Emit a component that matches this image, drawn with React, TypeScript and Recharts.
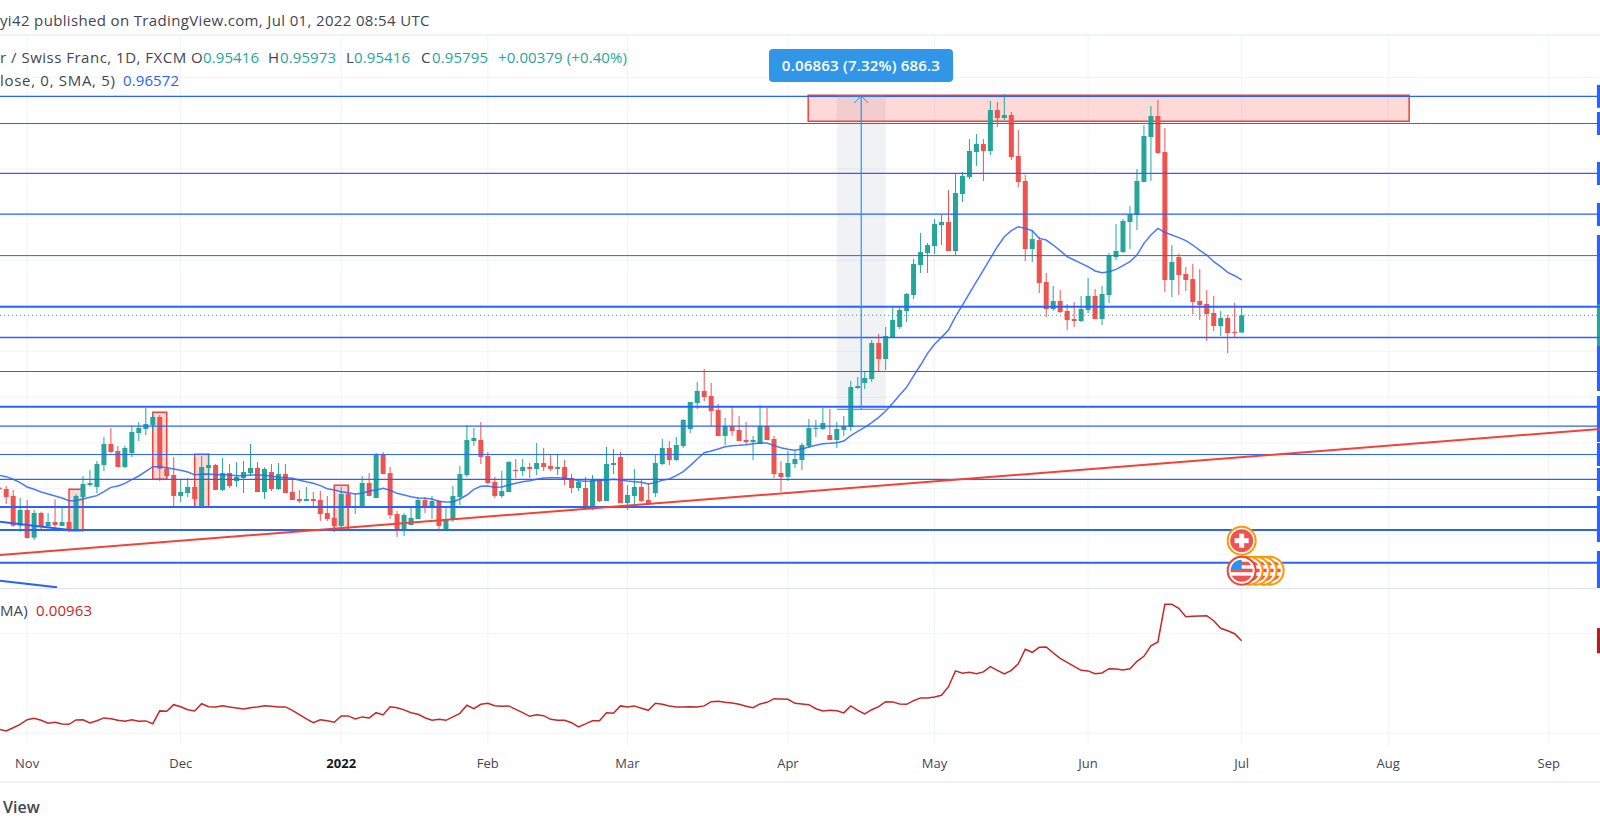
import React from 'react';
import { ComposedChart, Bar, Line, XAxis, YAxis, CartesianGrid, ReferenceLine, ReferenceArea, ReferenceDot } from 'recharts';

// USD/CHF daily bars, prices in 1/100000, first bar is cut by the left edge
const opens = [
  92020,91991,91838,91188,91531,90925,91465,91173,91268,91181,
  91268,91100,91816,92078,92035,92516,92976,92823,92473,92779,
  93217,93305,93392,93568,92436,92297,91838,91903,92035,91597,
  92451,92516,91969,92341,92166,92232,92341,92451,91925,92363,
  91991,92319,91925,91772,91728,91772,91750,91465,91356,91181,
  91881,91597,91597,92122,91794,92735,92341,91443,91115,91202,
  91334,91750,91575,91728,91093,91312,91816,92297,93042,93064,
  92714,92144,91838,91925,92407,92385,92473,92429,92560,92495,
  92429,92473,92232,92013,92013,91575,92188,91728,92516,92692,
  91684,91838,92035,91750,91903,92538,92889,92626,92933,93305,
  93874,94137,94028,93721,93152,93371,93283,93064,93020,92976,
  93371,93086,92341,92254,92538,92626,92933,93305,93305,93173,
  93064,93283,93349,94203,94312,94400,95188,94838,95320,95539,
  95889,96239,96896,97159,97312,97772,97838,97203,98451,98823,
  99371,99546,99393,100290,100115,100181,99283,98736,97246,97443,
  96524,95932,96108,95889,95713,95670,95910,96217,95713,96239,
  97071,97181,97838,97991,98714,99699,100159,99371,96568,97071,
  96699,96589,96108,96042,95845,95560,95735,95429,95416,
];
const highs = [
  92042,92057,91969,91794,91750,91531,91494,91465,91765,91589,
  91268,91881,92276,92407,92604,93130,93327,92933,92933,93371,
  93458,93765,93670,93611,92465,92692,92210,92232,92042,92714,
  92779,92538,92670,92538,92582,92604,92976,92582,92465,92538,
  92560,92538,92210,91969,92035,91925,91947,91838,91567,92035,
  91925,91881,92276,92341,92779,92801,92473,91509,91465,91619,
  91816,91816,91838,91750,91619,92057,92495,93392,93327,93458,
  92801,92254,92385,92604,92648,92648,92560,92998,92889,92735,
  92735,92626,92319,92210,92254,92297,92210,92911,92867,92801,
  92078,92429,92188,92122,92735,93086,93042,93130,93524,93896,
  94334,94619,94312,93852,93546,93787,93590,93458,93152,93830,
  93765,93152,92604,92823,92823,92998,93524,93502,93765,93743,
  93458,93590,94356,94444,94553,95254,95385,95539,95955,95999,
  96283,97027,97597,97378,97903,97991,98538,98911,98933,99655,
  99765,99655,100488,100466,100641,100247,99852,98867,97662,97509,
  96721,96436,96348,96042,96086,96217,96611,96370,96436,97159,
  97794,97903,98188,98998,99962,100378,100510,99896,97334,97137,
  96852,96918,96808,96348,96217,95889,95801,96064,95973,
];
const lows = [
  91969,91662,91166,91056,90903,90874,91071,91166,91151,91181,
  91056,91056,91677,92042,91896,92385,92779,92465,92451,92692,
  93042,93173,93261,92166,92210,91597,91706,91816,91604,91597,
  92188,91969,91947,92013,92035,91903,92276,91925,91772,91947,
  91969,91903,91750,91684,91728,91619,91290,91290,91049,91064,
  91093,91443,91575,91838,91794,92319,91334,90940,90962,91202,
  91334,91465,91334,91093,91093,91268,91640,92254,92933,92538,
  92100,91794,91794,91925,92232,92276,92232,92297,92385,92385,
  92297,92078,91903,91947,91553,91531,91706,91728,92319,91684,
  91531,91662,91706,91640,91816,92516,92516,92604,92889,93217,
  93743,93918,93371,93152,92954,93152,93042,92976,92626,92976,
  93064,92232,91932,92166,92451,92407,92889,93130,93283,93064,
  92889,93152,93261,94181,94181,94334,94553,94597,95298,95495,
  95648,96151,96721,96721,97137,97334,97203,97115,98276,98779,
  99064,98736,99305,99918,100071,99195,98604,96984,96962,96283,
  95757,95889,95845,95472,95538,95648,95845,95713,95582,96064,
  97005,97159,97246,97662,98714,98736,99327,96305,96195,96239,
  96327,95823,95691,95232,95451,95341,94969,95319,95416,
];
const closes = [
  91984,91816,91188,91531,90918,91465,91173,91268,91202,91268,
  91115,91838,92100,92122,92538,92976,92801,92473,92889,93239,
  93327,93414,93568,92436,92276,91838,91925,92035,91772,92473,
  92516,91969,92341,92057,92254,92363,92451,91925,92429,91991,
  92319,91903,91750,91728,91772,91728,91443,91334,91181,91881,
  91575,91619,92122,91838,92735,92319,91421,91115,91421,91356,
  91750,91575,91728,91181,91334,91838,92319,93064,93108,92692,
  92122,91838,91947,92582,92385,92473,92429,92560,92473,92429,
  92473,92210,92013,92144,91575,92210,91728,92538,92560,91684,
  91860,92035,91728,91662,92560,92889,92626,92954,93502,93896,
  94137,94006,93699,93152,93371,93261,93042,93020,93064,93371,
  93064,92319,92254,92560,92648,92954,93327,93327,93436,93064,
  93305,93371,94225,94247,94422,95188,94838,95342,95692,95911,
  96261,96918,97181,97334,97794,97838,97203,98473,98845,99393,
  99546,99393,100290,100115,100181,99261,98714,97246,97465,96502,
  95932,96108,95867,95691,95670,95932,96217,95713,96261,97108,
  97203,97860,98013,98736,99721,100159,99349,96568,96962,96677,
  96568,96086,96020,95823,95560,95735,95407,95416,95795,
];
const smaValues = [
  92290,92261,92203,92130,92035,91984,91925,91881,91838,91794,
  91735,91735,91772,91808,91845,91932,92027,92057,92115,92195,
  92276,92378,92480,92480,92458,92429,92400,92363,92305,92312,
  92319,92305,92305,92297,92283,92283,92297,92297,92290,92268,
  92246,92239,92224,92181,92151,92115,92064,91998,91969,91932,
  91911,91881,91896,91947,91969,92005,91962,91896,91859,91823,
  91794,91786,91772,91721,91706,91706,91772,91859,91984,92049,
  92057,92027,92035,92078,92115,92151,92173,92203,92232,92239,
  92239,92224,92210,92173,92159,92166,92181,92181,92203,92188,
  92166,92151,92137,92100,92130,92181,92210,92283,92370,92502,
  92648,92787,92823,92867,92918,92940,92947,92962,92984,92998,
  92998,92940,92896,92860,92838,92867,92911,92947,92984,92991,
  93006,93042,93159,93254,93341,93444,93560,93699,93867,94049,
  94217,94466,94706,94962,95159,95312,95472,95764,96020,96275,
  96531,96786,97042,97297,97516,97648,97735,97699,97648,97480,
  97443,97334,97210,97078,97005,96932,96859,96765,96728,96750,
  96801,96881,96969,97115,97370,97553,97699,97611,97553,97495,
  97429,97334,97217,97115,96969,96859,96735,96662,96572,
];
const atrValues = [
  .00520,.00512,.00528,.00545,.00568,.00575,.00565,.00550,.00555,.00547,
  .00545,.00567,.00568,.00552,.00563,.00577,.00573,.00565,.00560,.00568,
  .00560,.00562,.00548,.00612,.00610,.00643,.00633,.00618,.00612,.00648,
  .00633,.00632,.00638,.00632,.00627,.00622,.00628,.00632,.00638,.00635,
  .00632,.00632,.00615,.00593,.00572,.00553,.00568,.00563,.00555,.00587,
  .00587,.00572,.00582,.00577,.00603,.00592,.00633,.00628,.00617,.00603,
  .00595,.00578,.00565,.00570,.00565,.00582,.00600,.00640,.00623,.00645,
  .00650,.00638,.00635,.00637,.00620,.00603,.00585,.00593,.00588,.00570,
  .00565,.00565,.00553,.00532,.00547,.00563,.00563,.00603,.00600,.00637,
  .00632,.00637,.00625,.00615,.00650,.00645,.00637,.00632,.00632,.00633,
  .00632,.00637,.00658,.00660,.00655,.00652,.00645,.00635,.00628,.00647,
  .00655,.00673,.00672,.00670,.00650,.00647,.00643,.00623,.00612,.00615,
  .00613,.00602,.00637,.00615,.00597,.00618,.00633,.00658,.00657,.00647,
  .00645,.00663,.00677,.00677,.00682,.00690,.00733,.00812,.00800,.00805,
  .00798,.00807,.00833,.00815,.00797,.00815,.00847,.00920,.00905,.00930,
  .00932,.00902,.00875,.00855,.00835,.00815,.00812,.00798,.00802,.00823,
  .00822,.00817,.00823,.00860,.00885,.00937,.00957,.01145,.01145,.01125,
  .01083,.01085,.01087,.01088,.01063,.01025,.01013,.00998,.00963,
];

const monthTicks = [3, 25, 48, 69, 89, 112, 133, 155, 177, 198, 221];
const monthLabels = ['Nov', 'Dec', '2022', 'Feb', 'Mar', 'Apr', 'May', 'Jun', 'Jul', 'Aug', 'Sep'];
const priceGrid = [0.9, 0.91, 0.92, 0.93, 0.94, 0.95, 0.96, 0.97, 0.98, 0.99, 1.0, 1.01];
const atrGrid = [0.005, 0.01];

// support / resistance levels: [price, stroke width]
const levels = [
  [1.00589, 1.3], [0.99995, 1], [0.98905, 1.3], [0.98009, 1.3], [0.97102, 1],
  [0.95981, 2], [0.95309, 1.3], [0.94564, 1], [0.93793, 2], [0.93366, 1.3],
  [0.92746, 1], [0.92201, 1.3], [0.91597, 2], [0.91093, 2], [0.90375, 2],
];
// cut-off price labels on the right edge: [top, bottom, colour]
const axisTags = [
  [1.00841, 1.00339, '#2962ff'], [1.00247, 0.99744, '#2962ff'], [0.99152, 0.98649, '#2962ff'],
  [0.98254, 0.97751, '#2962ff'], [0.97554, 0.96042, '#2962ff'], [0.96042, 0.95123, '#26a69a'],
  [0.95123, 0.94137, '#2962ff'], [0.94028, 0.9302, '#2962ff'], [0.92998, 0.92495, '#2962ff'],
  [0.92451, 0.91947, '#2962ff'], [0.91838, 0.9083, '#2962ff'], [0.90633, 0.89823, '#2962ff'],
];
// pattern boxes: [first bar, last bar, top, bottom]
const patternBoxes = [
  [9, 11, 0.91984, 0.91078], [21, 23, 0.9367, 0.92203], [27, 29, 0.9275, 0.91604], [47, 49, 0.92071, 0.91093],
];

const UP = '#26a69a';
const DOWN = '#ef5350';
const BLUE = '#2962ff';
const RULER = '#2196f3';
const FONT = '"Open Sans"';
const X_DOMAIN = [-0.888, 228.34];
const TAG_X = 227.9;

const candles = opens.map((open, i) => ({
  bar: i - 1,
  open: open / 100000,
  close: closes[i] / 100000,
  high: highs[i] / 100000,
  low: lows[i] / 100000,
  range: [lows[i] / 100000, highs[i] / 100000],
  sma: smaValues[i] / 100000,
  atr: atrValues[i],
}));

function Candle(props: any) {
  const { x, y, width, height, payload } = props;
  const { open, close, high, low } = payload;
  const color = close >= open ? UP : DOWN;
  const perUnit = height / (high - low);
  const top = y + (high - Math.max(open, close)) * perUnit;
  const bodyH = Math.max(Math.abs(open - close) * perUnit, 1);
  const cx = x + width / 2;
  return (
    <g>
      <line x1={cx} x2={cx} y1={y} y2={y + height} stroke={color} strokeWidth={1} />
      <rect x={x} y={top} width={width} height={bodyH} fill={color} />
    </g>
  );
}

function SwissIcon({ cx, cy }: any) {
  return (
    <g>
      <circle cx={cx} cy={cy} r={14} fill="#fff" stroke="#ff9800" strokeWidth={2} />
      <circle cx={cx} cy={cy} r={11.5} fill="#ef5350" />
      <rect x={cx - 7} y={cy - 2.5} width={14} height={5} fill="#fff" />
      <rect x={cx - 2.5} y={cy - 7} width={5} height={14} fill="#fff" />
    </g>
  );
}

function UsIcon({ cx, cy, dx = 0, ring = '#ff9800' }: any) {
  const x = cx + dx;
  const id = `flag${dx}`;
  return (
    <g>
      <clipPath id={id}><circle cx={x} cy={cy} r={11} /></clipPath>
      <circle cx={x} cy={cy} r={14} fill="#fff" stroke={ring} strokeWidth={2} />
      <g clipPath={`url(#${id})`}>
        <rect x={x - 12} y={cy - 12} width={24} height={24} fill="#fff" />
        <rect x={x - 12} y={cy - 9} width={24} height={3.5} fill="#ef5350" />
        <rect x={x - 12} y={cy - 2} width={24} height={3.5} fill="#ef5350" />
        <rect x={x - 12} y={cy + 5} width={24} height={7} fill="#ef5350" />
        <rect x={x - 12} y={cy - 12} width={12} height={11} fill="#2196f3" />
      </g>
    </g>
  );
}

function MonthTick({ x, payload }: any) {
  const label = monthLabels[monthTicks.indexOf(payload.value)];
  const bold = label === '2022';
  return (
    <text x={x} y={179} textAnchor="middle" fontFamily={FONT} fontSize={13}
      fontWeight={bold ? 700 : 400} fill={bold ? '#131722' : '#434651'}>
      {label}
    </text>
  );
}

const textBase: React.CSSProperties = { position: 'absolute', whiteSpace: 'nowrap', fontFamily: FONT, fontSize: 15, letterSpacing: 0.1, lineHeight: '18px', color: '#434651' };

function Txt({ x, y, color, ls, children }: any) {
  return <span style={{ ...textBase, left: x, top: y - 9, color: color || '#434651', letterSpacing: ls ?? 0.1 }}>{children}</span>;
}

export default function App() {
  return (
    <div style={{ position: 'absolute', left: 0, top: 0, width: 1600, height: 829, overflow: 'hidden', background: '#fff' }}>
      <div style={{ position: 'absolute', left: 0, top: 36 }}>
        <ComposedChart width={1600} height={552} data={candles} margin={{ top: 0, right: 0, bottom: 0, left: 0 }}>
          <CartesianGrid stroke="#f0f3fa" horizontalValues={priceGrid} verticalValues={monthTicks} />
          <XAxis dataKey="bar" type="number" domain={X_DOMAIN} allowDataOverflow hide />
          <YAxis type="number" domain={[0.898228, 1.019116]} allowDataOverflow hide />

          <ReferenceArea x1={119} x2={126} y1={1.00599} y2={0.93736} fill="#787b86" fillOpacity={0.1} stroke="none" />
          <Bar dataKey="range" barSize={5} shape={<Candle />} isAnimationActive={false} />
          <Line dataKey="sma" stroke={BLUE} strokeWidth={1.5} strokeOpacity={0.85} dot={false} isAnimationActive={false} />

          {levels.map(([price, w]) => (
            <ReferenceLine key={price} y={price} stroke={BLUE} strokeWidth={w} />
          ))}
          <ReferenceLine y={closes[closes.length - 1] / 100000} stroke={UP} strokeDasharray="1 3" strokeWidth={1} />

          <ReferenceLine segment={[{ x: -0.888, y: 0.90545 }, { x: 228.34, y: 0.93305 }]} stroke="#f44336" strokeWidth={2} ifOverflow="visible" />
          <ReferenceLine segment={[{ x: -0.888, y: 0.91275 }, { x: 9.14, y: 0.91093 }]} stroke={BLUE} strokeWidth={2} ifOverflow="visible" />
          <ReferenceLine segment={[{ x: -0.888, y: 0.89983 }, { x: 7.28, y: 0.89838 }]} stroke={BLUE} strokeWidth={2} ifOverflow="visible" />

          {patternBoxes.map(([a, b, top, bottom]) => (
            <ReferenceArea key={a} x1={a} x2={b} y1={top} y2={bottom} fill="#f44336" fillOpacity={0.2} stroke="#f44336" strokeWidth={1.5} />
          ))}
          <ReferenceArea x1={114.9} x2={201} y1={1.00613} y2={1.00044} fill="#f44336" fillOpacity={0.2} stroke="#f44336" strokeWidth={1.5} />

          <ReferenceLine segment={[{ x: 122.5, y: 0.93736 }, { x: 122.5, y: 1.00599 }]} stroke={RULER} strokeWidth={1.2} />
          <ReferenceLine segment={[{ x: 119, y: 0.93736 }, { x: 126, y: 0.93736 }]} stroke={RULER} strokeWidth={1} />
          <ReferenceLine segment={[{ x: 119, y: 1.00599 }, { x: 126, y: 1.00599 }]} stroke={RULER} strokeWidth={1} />
          <ReferenceLine segment={[{ x: 121.5, y: 1.00444 }, { x: 122.5, y: 1.00599 }]} stroke={RULER} strokeWidth={1} />
          <ReferenceLine segment={[{ x: 123.5, y: 1.00444 }, { x: 122.5, y: 1.00599 }]} stroke={RULER} strokeWidth={1} />

          {axisTags.map(([top, bottom, color]) => (
            <ReferenceArea key={String(top)} x1={TAG_X} x2={X_DOMAIN[1]} y1={top as number} y2={bottom as number} fill={color as string} fillOpacity={1} stroke="none" />
          ))}

          <ReferenceDot x={177} y={0.90202} r={14} shape={(p: any) => <UsIcon {...p} dx={28} />} ifOverflow="visible" />
          <ReferenceDot x={177} y={0.90202} r={14} shape={(p: any) => <UsIcon {...p} dx={21} />} ifOverflow="visible" />
          <ReferenceDot x={177} y={0.90202} r={14} shape={(p: any) => <UsIcon {...p} dx={14} />} ifOverflow="visible" />
          <ReferenceDot x={177} y={0.90202} r={14} shape={(p: any) => <UsIcon {...p} dx={7} />} ifOverflow="visible" />
          <ReferenceDot x={177} y={0.90202} r={14} shape={(p: any) => <UsIcon {...p} dx={0} ring="#f44336" />} ifOverflow="visible" />
          <ReferenceDot x={177} y={0.90859} r={14} shape={(p: any) => <SwissIcon {...p} />} ifOverflow="visible" />
        </ComposedChart>
      </div>

      <div style={{ position: 'absolute', left: 0, top: 589 }}>
        <ComposedChart width={1600} height={192} data={candles} margin={{ top: 0, right: 0, bottom: 0, left: 0 }}>
          <CartesianGrid stroke="#f0f3fa" horizontalValues={atrGrid} verticalValues={monthTicks} />
          <XAxis dataKey="bar" type="number" domain={X_DOMAIN} allowDataOverflow ticks={monthTicks} interval={0}
            height={36} axisLine={false} tickLine={false} tick={<MonthTick />} />
          <YAxis type="number" domain={[0.004415, 0.012215]} allowDataOverflow hide />
          <Line dataKey="atr" stroke="#c62828" strokeWidth={1.5} dot={false} isAnimationActive={false} />
          <ReferenceArea x1={TAG_X} x2={X_DOMAIN[1]} y1={0.01026} y2={0.009} fill="#b71c1c" fillOpacity={1} stroke="none" />
        </ComposedChart>
      </div>

      <div style={{ position: 'absolute', left: 0, top: 34, width: 1600, height: 2, background: '#f0f3fa' }} />
      <div style={{ position: 'absolute', left: 0, top: 588, width: 1597, height: 1, background: '#e0e3eb' }} />
      <div style={{ position: 'absolute', left: 0, top: 781, width: 1600, height: 2, background: '#f0f3fa' }} />

      <Txt x={0} y={20} ls={0.35}>yi42 published on TradingView.com, Jul 01, 2022 08:54 UTC</Txt>
      <Txt x={0} y={57} ls={0.5}>r / Swiss Franc, 1D, FXCM</Txt>
      <Txt x={191} y={57}>O</Txt>
      <Txt x={203} y={57} color={UP}>0.95416</Txt>
      <Txt x={268} y={57}>H</Txt>
      <Txt x={280} y={57} color={UP}>0.95973</Txt>
      <Txt x={346} y={57}>L</Txt>
      <Txt x={354} y={57} color={UP}>0.95416</Txt>
      <Txt x={421} y={57}>C</Txt>
      <Txt x={432} y={57} color={UP}>0.95795</Txt>
      <Txt x={498} y={57} color={UP}>+0.00379 (+0.40%)</Txt>
      <Txt x={0} y={80} ls={0.7}>lose, 0, SMA, 5)</Txt>
      <Txt x={123} y={80} color={BLUE}>0.96572</Txt>
      <Txt x={0} y={610}>MA)</Txt>
      <Txt x={36} y={610} color="#c62828">0.00963</Txt>
      <span style={{ ...textBase, left: 3, top: 797, fontSize: 16, letterSpacing: 0, lineHeight: '20px', fontWeight: 600 }}>View</span>

      <div style={{ position: 'absolute', left: 769, top: 49, width: 184, height: 33, borderRadius: 4, background: '#3196e8',
        color: '#fff', fontFamily: FONT, fontWeight: 600, fontSize: 15, letterSpacing: 0.2, lineHeight: '33px', textAlign: 'center' }}>
        0.06863 (7.32%) 686.3
      </div>
    </div>
  );
}
